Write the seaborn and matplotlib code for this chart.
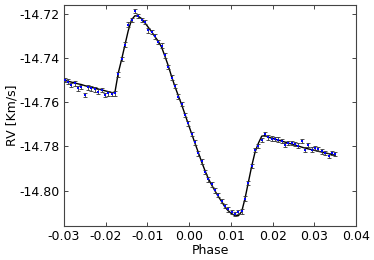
import matplotlib
matplotlib.use("Agg")
import matplotlib.pyplot as plt
import numpy as np
import pandas as pd
import seaborn as sns

# orbital phase of each RV measurement
phase = [
    -0.0298, -0.0290, -0.0282, -0.0274, -0.0266, -0.0258, -0.0250, -0.0242,
    -0.0234, -0.0226, -0.0218, -0.0210, -0.0202, -0.0194, -0.0186, -0.0178,
    -0.0170, -0.0162, -0.0154, -0.0146, -0.0138, -0.0130, -0.0122, -0.0114,
    -0.0106, -0.0098, -0.0090, -0.0082, -0.0074, -0.0066, -0.0058, -0.0050,
    -0.0042, -0.0034, -0.0026, -0.0018, -0.0010, -0.0002, 0.0006, 0.0014,
    0.0022, 0.0030, 0.0038, 0.0046, 0.0054, 0.0062, 0.0070, 0.0078,
    0.0086, 0.0094, 0.0102, 0.0110, 0.0118, 0.0126, 0.0134, 0.0142,
    0.0150, 0.0158, 0.0166, 0.0174, 0.0182, 0.0190, 0.0198, 0.0206,
    0.0214, 0.0222, 0.0230, 0.0238, 0.0246, 0.0254, 0.0262, 0.0270,
    0.0278, 0.0286, 0.0294, 0.0302, 0.0310, 0.0318, 0.0326, 0.0334,
    0.0342, 0.0350,
]

# measured radial velocities [km/s]
rv_obs = [
    -14.7501, -14.7508, -14.7523, -14.7516, -14.7538, -14.7531, -14.7568, -14.7534,
    -14.7538, -14.7543, -14.7553, -14.7546, -14.7568, -14.7561, -14.7564, -14.7561,
    -14.7475, -14.7405, -14.7340, -14.7250, -14.7230, -14.7188, -14.7210, -14.7228,
    -14.7239, -14.7276, -14.7284, -14.7303, -14.7329, -14.7345, -14.7389, -14.7441,
    -14.7490, -14.7528, -14.7575, -14.7608, -14.7658, -14.7697, -14.7745, -14.7782,
    -14.7832, -14.7868, -14.7917, -14.7950, -14.7972, -14.7999, -14.8020, -14.8048,
    -14.8070, -14.8085, -14.8098, -14.8105, -14.8098, -14.8094, -14.8036, -14.7965,
    -14.7888, -14.7818, -14.7800, -14.7772, -14.7745, -14.7760, -14.7765, -14.7768,
    -14.7770, -14.7775, -14.7794, -14.7785, -14.7785, -14.7789, -14.7797, -14.7777,
    -14.7815, -14.7793, -14.7815, -14.7808, -14.7812, -14.7823, -14.7830, -14.7842,
    -14.7830, -14.7835,
]

# model curve at the same phases
rv_model = [
    -14.7502, -14.7506, -14.7510, -14.7514, -14.7518, -14.7521, -14.7526, -14.7530,
    -14.7534, -14.7537, -14.7541, -14.7545, -14.7549, -14.7553, -14.7557, -14.7558,
    -14.7470, -14.7409, -14.7343, -14.7278, -14.7228, -14.7210, -14.7212, -14.7223,
    -14.7242, -14.7262, -14.7282, -14.7305, -14.7325, -14.7352, -14.7393, -14.7436,
    -14.7485, -14.7530, -14.7571, -14.7612, -14.7655, -14.7700, -14.7743, -14.7786,
    -14.7828, -14.7871, -14.7910, -14.7946, -14.7975, -14.8002, -14.8027, -14.8050,
    -14.8075, -14.8092, -14.8105, -14.8113, -14.8114, -14.8095, -14.8035, -14.7962,
    -14.7889, -14.7826, -14.7786, -14.7754, -14.7752, -14.7759, -14.7763, -14.7768,
    -14.7772, -14.7777, -14.7781, -14.7786, -14.7790, -14.7795, -14.7799, -14.7804,
    -14.7808, -14.7812, -14.7815, -14.7819, -14.7823, -14.7826, -14.7830, -14.7833,
    -14.7837, -14.7841,
]

rv_err = 0.001

df = pd.DataFrame({"phase": phase, "rv": rv_obs, "model": rv_model})

sns.set_style("ticks")
plt.rcParams["font.family"] = ["DejaVu Sans"]

fig = plt.figure(figsize=(3.74, 2.6), dpi=100)
ax = fig.add_axes([0.171, 0.131, 0.781, 0.851])

sns.lineplot(data=df, x="phase", y="model", color="black", linewidth=1.0, ax=ax)
ax.errorbar(
    df["phase"], df["rv"], yerr=rv_err, fmt="none",
    ecolor="#333333", elinewidth=0.6, capsize=1.4, capthick=0.6, zorder=3,
)
ax.plot(df["phase"], df["rv"], "s", color="blue", markersize=1.7,
        markeredgewidth=0, zorder=4)

ax.set_xlim(-0.03, 0.04)
ax.set_ylim(-14.816, -14.716)
ax.set_xticks([-0.03, -0.02, -0.01, 0.0, 0.01, 0.02, 0.03, 0.04])
ax.set_yticks([-14.80, -14.78, -14.76, -14.74, -14.72])
ax.xaxis.set_major_formatter(matplotlib.ticker.FormatStrFormatter("%.2f"))
ax.yaxis.set_major_formatter(matplotlib.ticker.FormatStrFormatter("%.2f"))

ax.tick_params(direction="in", length=3, width=0.6, labelsize=9,
               labelcolor="black", top=True, right=True, pad=3)
for s in ax.spines.values():
    s.set_linewidth(0.8)
    s.set_color("#444444")

ax.set_xlabel("Phase", fontsize=9, labelpad=1, color="black")
ax.set_ylabel("RV [Km/s]", fontsize=9, labelpad=1, color="black")

fig.savefig("out.png", dpi=100)
